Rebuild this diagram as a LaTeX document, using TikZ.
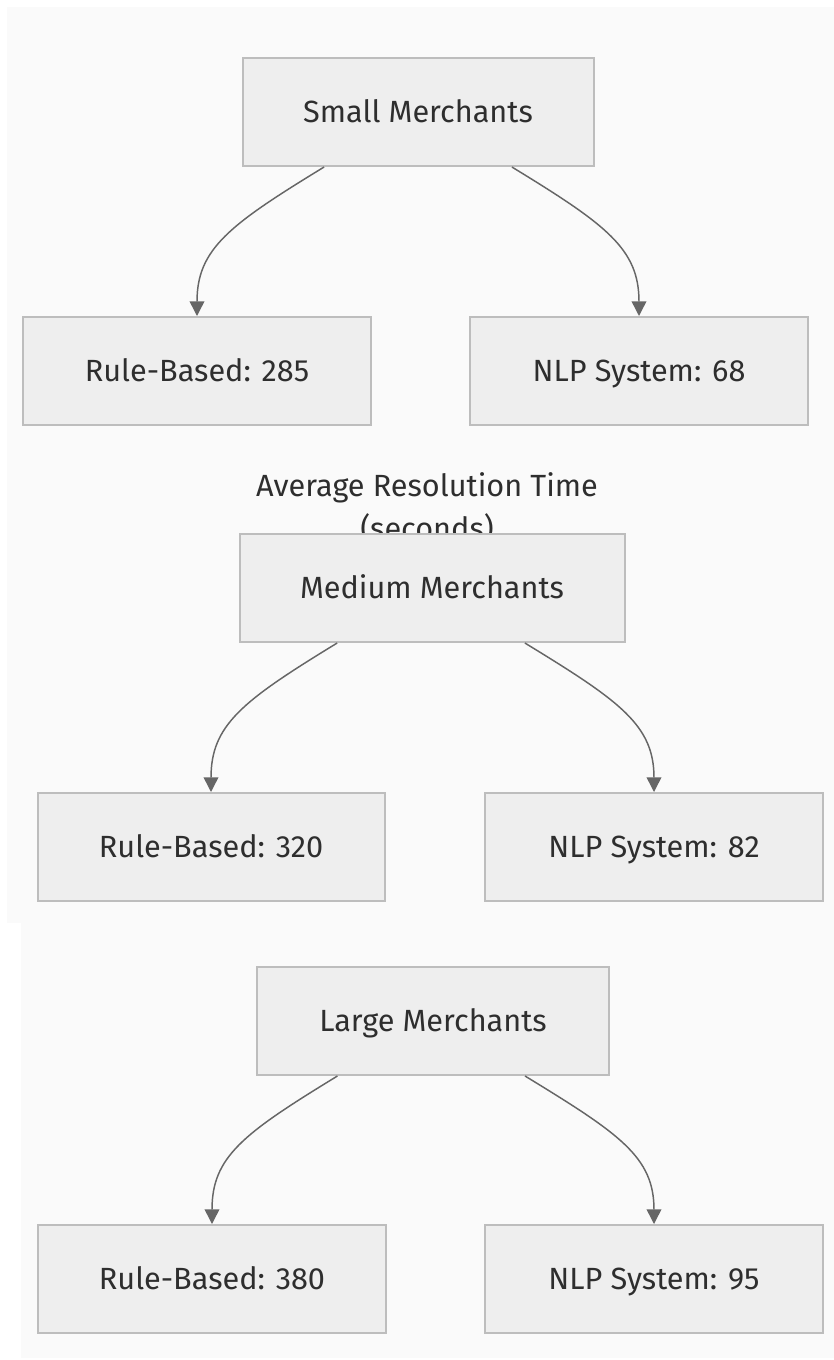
\documentclass[tikz,border=0pt]{standalone}
\usepackage{fontspec}
\setmainfont{Fira Sans}
\usetikzlibrary{arrows.meta,calc}
\definecolor{panelbg}{HTML}{FAFAFA}
\definecolor{boxfill}{HTML}{EEEEEE}
\definecolor{boxline}{HTML}{BDBDBD}
\definecolor{edgecol}{HTML}{666666}
\definecolor{txt}{HTML}{2E2E2E}
\begin{document}
\begin{tikzpicture}[x=0.75pt,y=-0.75pt,
  box/.style={draw=boxline, fill=boxfill, line width=1.5pt, inner sep=0pt,
    minimum height={108*0.75pt}, minimum width={#1*0.75pt}, text=txt,
    text height=16pt, text depth=0pt,
    font=\fontsize{23}{26}\selectfont},
  heading/.style={text=txt, align=center, inner sep=0pt,
    font=\fontsize{23}{32.5}\selectfont},
  edge/.style={draw=edgecol, line width=1.1pt,
    -{Triangle[length=11pt,width=11pt]}}
]
\useasboundingbox (0,0) rectangle (834,1360);
\fill[white] (0,0) rectangle (834,1360);
% background panels
\fill[panelbg] (7,7) rectangle (834,923);
\fill[panelbg] (21,923) rectangle (834,1358);

% small merchants
\node[box=351] (sm) at (418,112) {Small Merchants};
\node[box=348] (sr) at (197,371) {Rule-Based: 285};
\node[box=338] (sn) at (639,371) {NLP System: 68};

% chart heading, partly covered by the next box
\node[heading] (ttl) at (427,508) {Average Resolution Time\\(seconds)};

% medium merchants
\node[box=385] (mm) at (432,588) {Medium Merchants};
\node[box=347] (mr) at (211,847) {Rule-Based: 320};
\node[box=338] (mn) at (654,847) {NLP System: 82};

% large merchants
\node[box=352] (lm) at (433,1021) {Large Merchants};
\node[box=348] (lr) at (212,1279) {Rule-Based: 380};
\node[box=338] (ln) at (654,1279) {NLP System: 95};

% connectors
\draw[edge] ($(sm.south west)!0.234!(sm.south east)$) .. controls +(-95,58) and +(0,-67) .. (sr.north);
\draw[edge] ($(sm.south west)!0.766!(sm.south east)$) .. controls +(95,58) and +(0,-67) .. (sn.north);
\draw[edge] ($(mm.south west)!0.255!(mm.south east)$) .. controls +(-95,58) and +(0,-67) .. (mr.north);
\draw[edge] ($(mm.south west)!0.74!(mm.south east)$) .. controls +(95,58) and +(0,-67) .. (mn.north);
\draw[edge] ($(lm.south west)!0.23!(lm.south east)$) .. controls +(-95,58) and +(0,-67) .. (lr.north);
\draw[edge] ($(lm.south west)!0.76!(lm.south east)$) .. controls +(95,58) and +(0,-67) .. (ln.north);
\end{tikzpicture}
\end{document}
